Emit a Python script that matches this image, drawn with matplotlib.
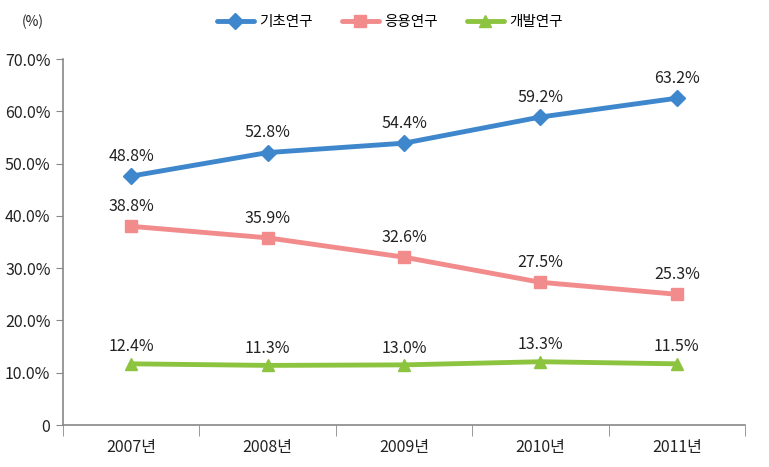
import matplotlib
matplotlib.use("Agg")
import matplotlib.pyplot as plt
import numpy as np

plt.rcParams['font.family'] = ['Noto Sans CJK KR', 'DejaVu Sans']

years = ['2007년', '2008년', '2009년', '2010년', '2011년']
series_names = ['기초연구', '응용연구', '개발연구']
basic = [47.6, 52.1, 53.9, 58.9, 62.5]
applied = [38.0, 35.8, 32.1, 27.3, 25.0]
develop = [11.7, 11.4, 11.5, 12.1, 11.7]
basic_labels = ['48.8%', '52.8%', '54.4%', '59.2%', '63.2%']
applied_labels = ['38.8%', '35.9%', '32.6%', '27.5%', '25.3%']
develop_labels = ['12.4%', '11.3%', '13.0%', '13.3%', '11.5%']
yticks = [0, 10, 20, 30, 40, 50, 60, 70]
ytick_labels = ['0', '10.0%', '20.0%', '30.0%', '40.0%', '50.0%', '60.0%', '70.0%']

colors = ['#3f87cc', '#f28b8b', '#8cc440']
markers = ['D', 's', '^']
msizes = [8, 8, 9]

fig = plt.figure(figsize=(7.69, 4.67), dpi=100)
ax = fig.add_axes([63/769, 1-425/467, (745-63)/769, (425-59)/467])

x = np.arange(len(years))
data = [basic, applied, develop]
labels = [basic_labels, applied_labels, develop_labels]
offsets = [8, 8, 6]
for vals, labs, c, m, ms, name, off in zip(data, labels, colors, markers, msizes, series_names, offsets):
    ax.plot(x, vals, color=c, lw=3.5, marker=m, markersize=ms, label=name, solid_capstyle='round')
    for xi, v, l in zip(x, vals, labs):
        ax.annotate(l, (xi, v), xytext=(0, off), textcoords='offset points',
                    ha='center', va='bottom', fontsize=11.5, color='#222222')

ax.set_xlim(-0.5, len(years) - 0.5)
ax.set_ylim(0, 70)
ax.set_yticks(yticks)
ax.set_yticklabels(ytick_labels, fontsize=11.5, color='#222222')
ax.set_xticks(x)
ax.set_xticklabels(years, fontsize=11.5, color='#222222')
ax.tick_params(axis='x', length=0, pad=10)
ax.set_xticks(np.arange(-0.5, len(years), 1), minor=True)
ax.tick_params(axis='x', which='minor', length=8, color='#888888', direction='out')
ax.tick_params(axis='y', length=5, color='#888888', direction='out', pad=4)
for s in ['top', 'right']:
    ax.spines[s].set_visible(False)
for s in ['left', 'bottom']:
    ax.spines[s].set_color('#888888')
    ax.spines[s].set_linewidth(1.2)

fig.text(22/769, 1-22/467, '(%)', fontsize=10, color='#222222', va='center')
leg = fig.legend(loc='center', bbox_to_anchor=(390/769, 1-22/467), ncol=3, frameon=False,
                 fontsize=10.5, handlelength=2.5, columnspacing=2.0, handletextpad=0.4)

fig.savefig('out.png', dpi=100, facecolor='white')
